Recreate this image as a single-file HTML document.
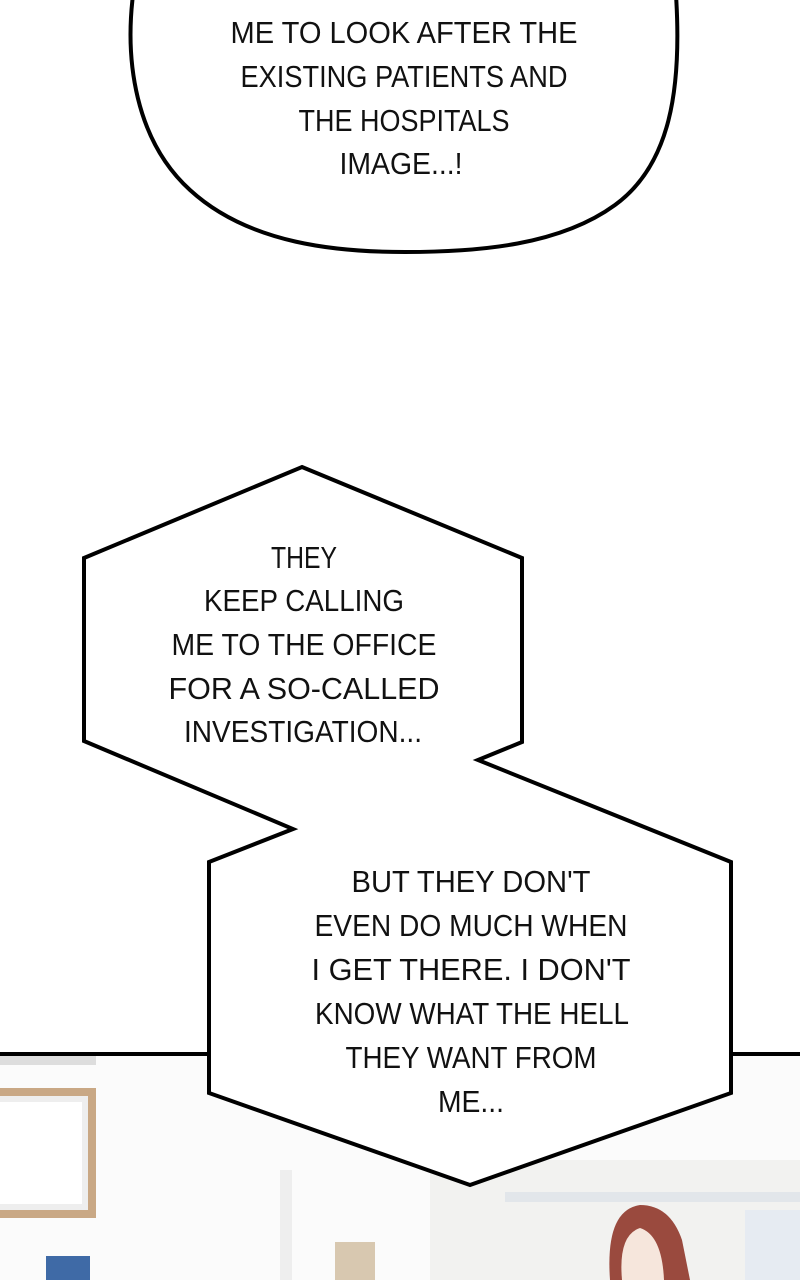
<!DOCTYPE html>
<html><head><meta charset="utf-8"><style>
html,body{margin:0;padding:0;background:#fff;}
svg{display:block}
text{font-family:"Liberation Sans",sans-serif;font-size:31px;fill:#111;text-anchor:middle;}
</style></head><body>
<svg width="800" height="1280" viewBox="0 0 800 1280" xmlns="http://www.w3.org/2000/svg">
<rect width="800" height="1280" fill="#fff"/>
<rect x="0" y="1054" width="800" height="226" fill="#fbfbfb"/>
<rect x="0" y="1055" width="96" height="10" fill="#ddd"/>
<rect x="-10" y="1088" width="106" height="130" fill="#c9a885"/>
<rect x="-4" y="1096" width="92" height="114" fill="#eee"/>
<rect x="0" y="1102" width="82" height="102" fill="#fff"/>
<rect x="46" y="1256" width="44" height="24" fill="#3f6aa6"/>
<rect x="280" y="1170" width="12" height="110" fill="#eee"/>
<rect x="430" y="1160" width="370" height="120" fill="#f2f2f0"/>
<rect x="505" y="1192" width="295" height="10" fill="#e2e6ea"/>
<rect x="335" y="1242" width="40" height="38" fill="#d8c8b0"/>
<rect x="745" y="1210" width="55" height="70" fill="#e6ebf2"/>
<path d="M610 1280 Q605 1210 640 1205 Q670 1205 682 1240 L690 1280 Z" fill="#9a4a3e"/>
<path d="M622 1280 Q618 1235 640 1228 Q662 1235 664 1280 Z" fill="#f6e6dc"/>
<line x1="0" y1="1054" x2="800" y2="1054" stroke="#000" stroke-width="4"/>
<path d="M133 -5 C125 60 135 140 190 190 C250 245 340 252 405 252 C480 252 560 245 615 205 C670 165 682 90 676 -5 Z" fill="#fff" stroke="#000" stroke-width="4"/>
<g lengthAdjust="spacingAndGlyphs">
<text x="404" y="43" textLength="347" lengthAdjust="spacingAndGlyphs">ME TO LOOK AFTER THE</text>
<text x="404" y="87" textLength="327" lengthAdjust="spacingAndGlyphs">EXISTING PATIENTS AND</text>
<text x="404" y="131" textLength="211" lengthAdjust="spacingAndGlyphs">THE HOSPITALS</text>
<text x="401" y="174" textLength="123" lengthAdjust="spacingAndGlyphs">IMAGE...!</text>
</g>
<path d="M302 467 L522 558 L522 742 L478 760 L731 862 L731 1093 L470 1185 L209 1093 L209 862 L293 829 L84 741 L84 558 Z" fill="#fff" stroke="#000" stroke-width="4" stroke-linejoin="miter"/>
<text x="304" y="568" textLength="66" lengthAdjust="spacingAndGlyphs">THEY</text>
<text x="304" y="611" textLength="200" lengthAdjust="spacingAndGlyphs">KEEP CALLING</text>
<text x="304" y="655" textLength="265" lengthAdjust="spacingAndGlyphs">ME TO THE OFFICE</text>
<text x="304" y="699" textLength="271" lengthAdjust="spacingAndGlyphs">FOR A SO-CALLED</text>
<text x="303" y="742" textLength="238" lengthAdjust="spacingAndGlyphs">INVESTIGATION...</text>
<text x="471" y="892" textLength="239" lengthAdjust="spacingAndGlyphs">BUT THEY DON'T</text>
<text x="471" y="936" textLength="313" lengthAdjust="spacingAndGlyphs">EVEN DO MUCH WHEN</text>
<text x="471" y="980" textLength="319" lengthAdjust="spacingAndGlyphs">I GET THERE. I DON'T</text>
<text x="472" y="1024" textLength="314" lengthAdjust="spacingAndGlyphs">KNOW WHAT THE HELL</text>
<text x="471" y="1068" textLength="251" lengthAdjust="spacingAndGlyphs">THEY WANT FROM</text>
<text x="471" y="1112" textLength="66" lengthAdjust="spacingAndGlyphs">ME...</text>
</svg>
</body></html>
